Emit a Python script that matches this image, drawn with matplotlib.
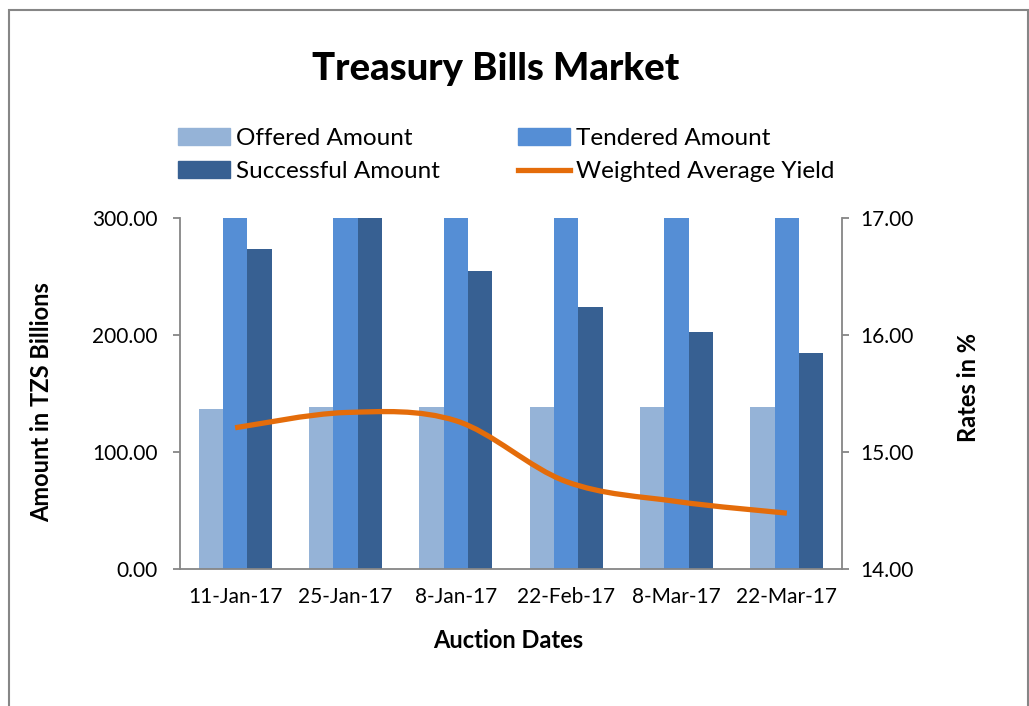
import numpy as np
import matplotlib
matplotlib.use("Agg")
import matplotlib.pyplot as plt
from matplotlib.path import Path
from matplotlib.patches import PathPatch, Rectangle, Patch
from matplotlib.lines import Line2D

plt.rcParams["font.family"] = ["Lato", "DejaVu Sans"]

dates = ["11-Jan-17", "25-Jan-17", "8-Jan-17", "22-Feb-17", "8-Mar-17", "22-Mar-17"]
offered = [137.0, 139.0, 138.5, 139.0, 139.0, 139.0]
tendered = [420.0, 520.0, 480.0, 450.0, 430.0, 400.0]   # run past the 300 axis limit
successful = [273.5, 310.0, 255.0, 224.0, 203.0, 185.0]
yield_rate = [15.21, 15.34, 15.27, 14.75, 14.58, 14.48]

C_OFF, C_TEN, C_SUC, C_LINE = "#95B3D7", "#558ED5", "#376092", "#E46C0A"
GREY = "#868686"


def smooth_path(xs, ys):
    # Excel-style smoothed line: cubic Bezier segments, Catmull-Rom control points
    p = np.column_stack([xs, ys]).astype(float)
    ext = np.vstack([p[0], p, p[-1]])
    verts, codes = [p[0]], [Path.MOVETO]
    for i in range(len(p) - 1):
        p0, p1, p2, p3 = ext[i], ext[i + 1], ext[i + 2], ext[i + 3]
        verts += [p1 + (p2 - p0) / 6, p2 - (p3 - p1) / 6, p2]
        codes += [Path.CURVE4] * 3
    return Path(verts, codes)


fig = plt.figure(figsize=(10.29, 7.06), dpi=100)
ax = fig.add_axes([0.1749, 0.1936, 0.6434, 0.4972])
x = np.arange(len(dates))
w = 0.22
ax.bar(x - w, offered, w, color=C_OFF, lw=0)
ax.bar(x, tendered, w, color=C_TEN, lw=0)
ax.bar(x + w, successful, w, color=C_SUC, lw=0)
ax.set_xlim(-0.5, len(dates) - 0.5)
ax.set_ylim(0, 300)
ax.set_yticks([0, 100, 200, 300])
ax.set_yticklabels([f"{v:.2f}" for v in [0, 100, 200, 300]])
ax.set_xticks(x)
ax.set_xticklabels(dates)
ax.tick_params(axis="x", length=0, pad=13, labelsize=15)
ax.tick_params(axis="y", length=5, width=1.3, color=GREY, pad=11, labelsize=15)

ax2 = ax.twinx()
ax2.set_ylim(14, 17)
ax2.set_yticks([14, 15, 16, 17])
ax2.set_yticklabels([f"{v:.2f}" for v in [14, 15, 16, 17]])
ax2.tick_params(axis="y", length=5, width=1.3, color=GREY, pad=8, labelsize=15)
ax2.add_patch(PathPatch(smooth_path(x, yield_rate), fill=False, ec=C_LINE,
                        lw=3.8, capstyle="butt"))

for a in (ax, ax2):
    a.spines["top"].set_visible(False)
    for s in ("left", "right", "bottom"):
        a.spines[s].set_color(GREY)
        a.spines[s].set_linewidth(1.3)
ax.spines["right"].set_visible(False)
ax2.spines["left"].set_visible(False)
ax2.spines["bottom"].set_visible(False)

fig.text(496 / 1029, 1 - 80 / 706, "Treasury Bills Market", ha="center",
         va="baseline", fontsize=27.5, fontweight="black")
fig.text(42 / 1029, 1 - 402 / 706, "Amount in TZS Billions", rotation=90,
         ha="center", va="center", fontsize=17, fontweight="bold")
fig.text(968 / 1029, 1 - 387 / 706, "Rates in %", rotation=90,
         ha="center", va="center", fontsize=17, fontweight="bold")
fig.text(508 / 1029, 1 - 640 / 706, "Auction Dates", ha="center",
         va="center", fontsize=17, fontweight="bold")

handles = [Patch(color=C_OFF), Patch(color=C_SUC), Patch(color=C_TEN),
           Line2D([], [], color=C_LINE, lw=3.8)]
labels = ["Offered Amount", "Successful Amount", "Tendered Amount",
          "Weighted Average Yield"]
fig.legend(handles, labels, ncol=2, loc="upper left",
           bbox_to_anchor=(178 / 1029, 1 - 128 / 706), frameon=False,
           fontsize=17.5, handlelength=2.15, handleheight=0.66,
           handletextpad=0.25, labelspacing=0.5, columnspacing=3.2,
           borderpad=0, borderaxespad=0)

fig.patches.append(Rectangle((9 / 1029, -0.1), 1019 / 1029, 1.1 - 10 / 706,
                             transform=fig.transFigure, fill=False,
                             ec=GREY, lw=1.5))

fig.savefig("out.png", dpi=100)
